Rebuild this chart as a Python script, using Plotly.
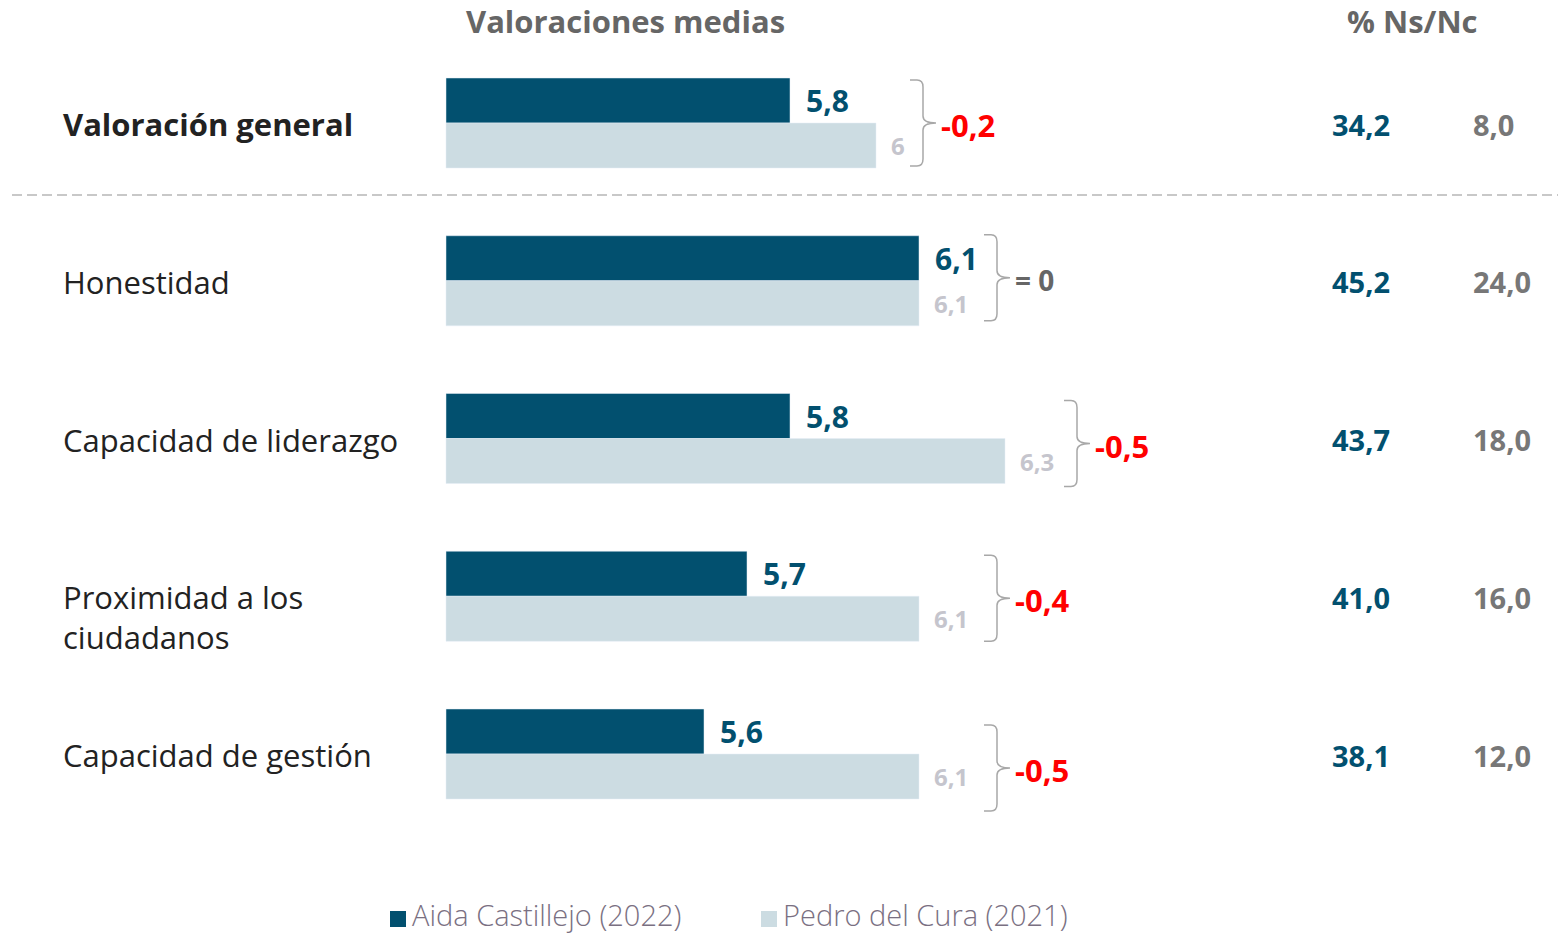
import plotly.graph_objects as go

# ---- data ----
categories = ["Valoración general", "Honestidad", "Capacidad de liderazgo",
              "Proximidad a los<br>ciudadanos", "Capacidad de gestión"]
aida_2022 = [5.8, 6.1, 5.8, 5.7, 5.6]
pedro_2021 = [6.0, 6.1, 6.3, 6.1, 6.1]
ns_nc_aida = ["34,2", "45,2", "43,7", "41,0", "38,1"]
ns_nc_pedro = ["8,0", "24,0", "18,0", "16,0", "12,0"]
series_names = ["Aida Castillejo (2022)", "Pedro del Cura (2021)"]

# ---- layout constants ----
W, H = 1558, 934
DARK = "#02506F"
LIGHT = "#CCDCE2"
GREY_TXT = "#666666"
LIGHT_TXT = "#C5C5CD"
RED = "#FF0000"
FONT = "Open Sans"

BASE = 5.0            # bars start at this value
PX_PER_UNIT = 430.0   # horizontal scale
BASE_PX = 446.0       # pixel where the base sits
ROW0_PX = 123.0       # centre of first row
ROW_STEP = 157.75     # pixel distance between rows
BAR_PX = 45.0         # thickness of each bar
BRACE_GAP_PX = [47, 78, 72, 78, 78]
BRACE_SHIFT_PX = [0, -3, 5, 2, 14]
BRACE_HALF_PX = 43
LINE_PX = 39          # line height of the wrapped row labels

x_range = [BASE - BASE_PX / PX_PER_UNIT, BASE + (W - BASE_PX) / PX_PER_UNIT]
y_range = [(H - ROW0_PX) / ROW_STEP, -ROW0_PX / ROW_STEP]
half = BAR_PX / 2 / ROW_STEP
rows = list(range(len(categories)))


def px_x(px):
    return px / W


def px_y(py):
    return 1 - py / H


def fmt(v):
    return ("%g" % round(v, 2)).replace(".", ",")


fig = go.Figure()
fig.add_trace(go.Bar(y=rows, x=[v - BASE for v in aida_2022], base=BASE,
                     orientation="h", marker_color=DARK, name=series_names[0],
                     hoverinfo="skip"))
fig.add_trace(go.Bar(y=rows, x=[v - BASE for v in pedro_2021], base=BASE,
                     orientation="h", marker_color=LIGHT, name=series_names[1],
                     hoverinfo="skip"))

ann = []
shapes = []


def note(**kw):
    kw.setdefault("showarrow", False)
    kw.setdefault("yanchor", "middle")
    kw.setdefault("xanchor", "left")
    ann.append(kw)


# headers
note(x=px_x(625), y=px_y(21), xref="paper", yref="paper", xanchor="center",
     text="<b>Valoraciones medias</b>",
     font=dict(family=FONT, size=31, color=GREY_TXT))
note(x=px_x(1412), y=px_y(21), xref="paper", yref="paper", xanchor="center",
     text="<b>% Ns/Nc</b>",
     font=dict(family=FONT, size=31, color=GREY_TXT))

for i, cat in enumerate(categories):
    a, p = aida_2022[i], pedro_2021[i]
    label = f"<b>{cat}</b>" if i == 0 else cat
    n_lines = cat.count("<br>") + 1
    # first line of a wrapped label sits on the row centre
    note(x=px_x(61), y=i, xref="paper", yref="y", text=label, align="left",
         yshift=-1 - (n_lines - 1) * LINE_PX / 2,
         font=dict(family=FONT, size=31, color="#222222"))
    # bar value labels
    note(x=a, y=i - half, xref="x", yref="y", text=f"<b>{fmt(a)}</b>", xshift=14,
         font=dict(family=FONT, size=30, color=DARK))
    note(x=p, y=i + half, xref="x", yref="y", text=f"<b>{fmt(p)}</b>", xshift=13,
         font=dict(family=FONT, size=24, color=LIGHT_TXT))
    # difference brace
    bx = max(a, p) + BRACE_GAP_PX[i] / PX_PER_UNIT
    arm = 13 / PX_PER_UNIT
    tick = 13 / PX_PER_UNIT
    r = 7 / ROW_STEP
    rx = 6 / PX_PER_UNIT
    mid = i + BRACE_SHIFT_PX[i] / ROW_STEP
    top = mid - BRACE_HALF_PX / ROW_STEP
    bot = mid + BRACE_HALF_PX / ROW_STEP
    x0 = bx - arm
    path = (f"M {x0},{top} L {bx - rx},{top} Q {bx},{top} {bx},{top + r} "
            f"L {bx},{mid - r} Q {bx},{mid} {bx + tick},{mid} "
            f"Q {bx},{mid} {bx},{mid + r} L {bx},{bot - r} "
            f"Q {bx},{bot} {bx - rx},{bot} L {x0},{bot}")
    shapes.append(dict(type="path", path=path, xref="x", yref="y",
                       line=dict(color="#A8A8A8", width=1.5)))
    d = round(a - p, 1)
    if d == 0:
        dtxt, dcol, dsize = "<b>= 0</b>", GREY_TXT, 28
    else:
        dtxt, dcol, dsize = "<b>" + fmt(d) + "</b>", RED, 31
    note(x=bx + tick, y=mid, xref="x", yref="y", text=dtxt, xshift=3, yshift=-2,
         font=dict(family=FONT, size=dsize, color=dcol))
    # % Ns/Nc columns
    note(x=px_x(1330), y=i, xref="paper", yref="y", yshift=-1,
         text=f"<b>{ns_nc_aida[i]}</b>",
         font=dict(family=FONT, size=29, color=DARK))
    note(x=px_x(1471), y=i, xref="paper", yref="y", yshift=-1,
         text=f"<b>{ns_nc_pedro[i]}</b>",
         font=dict(family=FONT, size=29, color="#777777"))

# separator under the overall rating
shapes.append(dict(type="line", xref="paper", yref="paper",
                   x0=px_x(12), x1=1, y0=px_y(195), y1=px_y(195),
                   line=dict(color="#C8C8C8", width=2, dash="10px,5px")))

# legend
legend_items = [(390, DARK, series_names[0]), (761, LIGHT, series_names[1])]
for lx, col, name in legend_items:
    shapes.append(dict(type="rect", xref="paper", yref="paper",
                       x0=px_x(lx), x1=px_x(lx + 16), y0=px_y(927), y1=px_y(911),
                       fillcolor=col, line=dict(width=0)))
    note(x=px_x(lx + 20), y=px_y(914), xref="paper", yref="paper", text=name,
         font=dict(family=FONT, size=29, color="#7A7082", weight=300))

fig.update_layout(
    width=W, height=H,
    margin=dict(l=0, r=0, t=0, b=0),
    paper_bgcolor="white", plot_bgcolor="white",
    barmode="group", bargap=1 - 2 * BAR_PX / ROW_STEP, bargroupgap=0,
    showlegend=False,
    xaxis=dict(range=x_range, visible=False, fixedrange=True),
    yaxis=dict(range=y_range, visible=False, fixedrange=True),
    annotations=ann, shapes=shapes,
)

fig.write_html("out.html")
